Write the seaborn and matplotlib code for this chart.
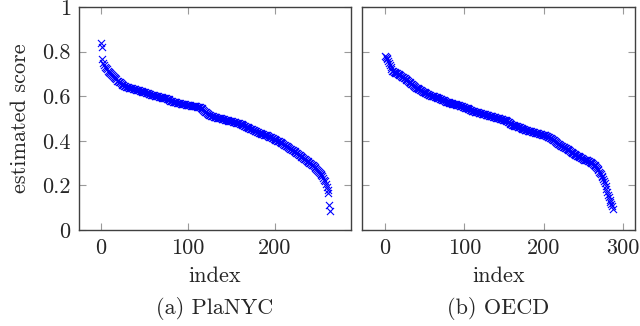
import matplotlib
matplotlib.use("Agg")
import matplotlib.pyplot as plt
import seaborn as sns
import pandas as pd

# estimated scores, sorted
planyc_scores = [
    0.84, 0.82, 0.765, 0.75, 0.74, 0.73, 0.725, 0.72, 0.715, 0.71,
    0.708, 0.705, 0.70, 0.695, 0.69, 0.685, 0.683, 0.68, 0.675, 0.67,
    0.668, 0.665, 0.662, 0.658, 0.655, 0.65, 0.648, 0.646, 0.644, 0.642,
    0.641, 0.64, 0.639, 0.638, 0.637, 0.636, 0.635, 0.634, 0.633, 0.632,
    0.631, 0.63, 0.628, 0.627, 0.626, 0.625, 0.624, 0.622, 0.621, 0.62,
    0.619, 0.617, 0.616, 0.615, 0.613, 0.612, 0.61, 0.609, 0.607, 0.606,
    0.605, 0.604, 0.603, 0.602, 0.601, 0.60, 0.599, 0.598, 0.597, 0.596,
    0.595, 0.594, 0.593, 0.592, 0.591, 0.59, 0.589, 0.588, 0.586, 0.583,
    0.58, 0.578, 0.577, 0.576, 0.575, 0.574, 0.573, 0.572, 0.571, 0.57,
    0.569, 0.568, 0.567, 0.566, 0.565, 0.564, 0.563, 0.563, 0.562, 0.562,
    0.561, 0.56, 0.56, 0.559, 0.558, 0.558, 0.557, 0.556, 0.555, 0.555,
    0.554, 0.553, 0.552, 0.551, 0.55, 0.548, 0.545, 0.542, 0.538, 0.535,
    0.531, 0.528, 0.525, 0.522, 0.519, 0.516, 0.514, 0.512, 0.51, 0.509,
    0.508, 0.507, 0.506, 0.505, 0.504, 0.503, 0.502, 0.501, 0.50, 0.499,
    0.498, 0.497, 0.496, 0.495, 0.494, 0.493, 0.492, 0.491, 0.49, 0.489,
    0.488, 0.487, 0.486, 0.485, 0.484, 0.483, 0.482, 0.481, 0.48, 0.478,
    0.477, 0.475, 0.474, 0.472, 0.47, 0.468, 0.466, 0.464, 0.462, 0.46,
    0.458, 0.456, 0.455, 0.453, 0.451, 0.45, 0.448, 0.446, 0.444, 0.442,
    0.44, 0.438, 0.437, 0.435, 0.434, 0.432, 0.431, 0.43, 0.428, 0.427,
    0.426, 0.424, 0.423, 0.421, 0.419, 0.417, 0.415, 0.413, 0.411, 0.409,
    0.407, 0.405, 0.403, 0.401, 0.399, 0.397, 0.395, 0.393, 0.39, 0.388,
    0.385, 0.383, 0.38, 0.378, 0.375, 0.373, 0.37, 0.368, 0.365, 0.363,
    0.36, 0.358, 0.356, 0.353, 0.35, 0.347, 0.344, 0.341, 0.338, 0.335,
    0.332, 0.329, 0.326, 0.323, 0.32, 0.317, 0.314, 0.311, 0.308, 0.305,
    0.302, 0.299, 0.296, 0.293, 0.29, 0.287, 0.283, 0.279, 0.275, 0.27,
    0.266, 0.262, 0.257, 0.252, 0.246, 0.24, 0.234, 0.226, 0.218, 0.208,
    0.195, 0.18, 0.165, 0.11, 0.085,
]

oecd_scores = [
    0.78, 0.775, 0.77, 0.765, 0.76, 0.75, 0.74, 0.73, 0.72, 0.715,
    0.712, 0.71, 0.708, 0.706, 0.704, 0.702, 0.70, 0.698, 0.695, 0.693,
    0.69, 0.688, 0.686, 0.684, 0.682, 0.68, 0.677, 0.674, 0.671, 0.668,
    0.665, 0.662, 0.659, 0.656, 0.653, 0.65, 0.647, 0.644, 0.641, 0.639,
    0.637, 0.635, 0.633, 0.631, 0.629, 0.627, 0.625, 0.623, 0.621, 0.619,
    0.617, 0.615, 0.613, 0.611, 0.609, 0.607, 0.605, 0.604, 0.603, 0.602,
    0.601, 0.60, 0.599, 0.598, 0.597, 0.596, 0.594, 0.592, 0.59, 0.588,
    0.587, 0.586, 0.585, 0.583, 0.581, 0.579, 0.577, 0.575, 0.574, 0.573,
    0.572, 0.571, 0.57, 0.569, 0.568, 0.567, 0.566, 0.565, 0.564, 0.563,
    0.562, 0.561, 0.56, 0.559, 0.558, 0.557, 0.556, 0.555, 0.553, 0.551,
    0.55, 0.549, 0.548, 0.547, 0.545, 0.543, 0.541, 0.539, 0.537, 0.535,
    0.534, 0.533, 0.532, 0.531, 0.53, 0.529, 0.528, 0.527, 0.526, 0.525,
    0.524, 0.523, 0.522, 0.521, 0.52, 0.519, 0.518, 0.517, 0.516, 0.515,
    0.514, 0.513, 0.512, 0.511, 0.51, 0.509, 0.508, 0.507, 0.506, 0.505,
    0.504, 0.503, 0.502, 0.501, 0.50, 0.499, 0.498, 0.497, 0.496, 0.495,
    0.494, 0.493, 0.492, 0.49, 0.488, 0.486, 0.483, 0.48, 0.477, 0.474,
    0.472, 0.47, 0.469, 0.468, 0.467, 0.466, 0.465, 0.464, 0.463, 0.462,
    0.461, 0.459, 0.457, 0.455, 0.453, 0.451, 0.45, 0.449, 0.448, 0.447,
    0.446, 0.445, 0.444, 0.443, 0.442, 0.441, 0.44, 0.439, 0.438, 0.437,
    0.436, 0.435, 0.434, 0.433, 0.432, 0.431, 0.43, 0.429, 0.428, 0.427,
    0.426, 0.425, 0.424, 0.423, 0.421, 0.419, 0.417, 0.415, 0.413, 0.411,
    0.409, 0.407, 0.405, 0.402, 0.399, 0.396, 0.393, 0.39, 0.387, 0.384,
    0.382, 0.38, 0.378, 0.376, 0.374, 0.372, 0.37, 0.368, 0.366, 0.364,
    0.362, 0.36, 0.357, 0.354, 0.351, 0.348, 0.346, 0.344, 0.342, 0.34,
    0.338, 0.336, 0.334, 0.332, 0.33, 0.328, 0.326, 0.324, 0.322, 0.32,
    0.318, 0.316, 0.315, 0.314, 0.313, 0.312, 0.31, 0.308, 0.306, 0.304,
    0.302, 0.299, 0.296, 0.293, 0.29, 0.286, 0.282, 0.278, 0.273, 0.268,
    0.262, 0.256, 0.25, 0.243, 0.236, 0.228, 0.22, 0.21, 0.198, 0.186,
    0.172, 0.158, 0.146, 0.136, 0.126, 0.116, 0.106, 0.096,
]

panel_titles = ["(a) PlaNYC", "(b) OECD"]
x_ticks = [[0, 100, 200], [0, 100, 200, 300]]
y_ticks = [0, 0.2, 0.4, 0.6, 0.8, 1]
y_tick_labels = ["0", "0.2", "0.4", "0.6", "0.8", "1"]

sns.set_style("ticks")
plt.rcParams["font.family"] = ["cmr10", "DejaVu Serif"]
plt.rcParams["axes.formatter.use_mathtext"] = True
plt.rcParams["font.size"] = 16

fig = plt.figure(figsize=(6.4, 3.26), dpi=100)
ax1 = fig.add_axes([79 / 640, 96 / 326, 272 / 640, 223 / 326])
ax2 = fig.add_axes([362 / 640, 96 / 326, 273 / 640, 223 / 326])

frames = [
    pd.DataFrame({"index": range(len(planyc_scores)), "score": planyc_scores}),
    pd.DataFrame({"index": range(len(oecd_scores)), "score": oecd_scores}),
]
xlims = [(-25, 288), (-29, 315)]

for i, (ax, df) in enumerate(zip([ax1, ax2], frames)):
    sns.scatterplot(data=df, x="index", y="score", marker="x", color="blue",
                    s=26, linewidth=0.8, ax=ax, zorder=3)
    ax.set_xlim(*xlims[i])
    ax.set_ylim(0, 1)
    ax.set_xticks(x_ticks[i])
    ax.set_xticklabels([str(t) for t in x_ticks[i]])
    ax.set_yticks(y_ticks)
    if i == 0:
        ax.set_yticklabels(y_tick_labels)
        ax.set_ylabel("estimated score", labelpad=9)
    else:
        ax.set_yticklabels([])
        ax.set_ylabel("")
    ax.set_xlabel("index", labelpad=6)
    ax.tick_params(direction="in", length=5, width=0.8, color="#9a9a9a",
                   top=True, right=True, pad=6, labelsize=16)
    for sp in ax.spines.values():
        sp.set_visible(True)
        sp.set_color("#404040")
        sp.set_linewidth(1.0)
    ax.text(0.5, -0.35, panel_titles[i], transform=ax.transAxes,
            ha="center", va="center", fontsize=16)

fig.savefig("out.png", dpi=100)
